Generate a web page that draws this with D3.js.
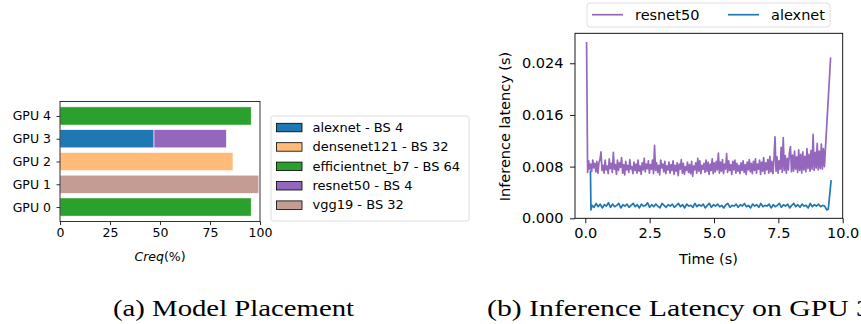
<!DOCTYPE html>
<html><head><meta charset="utf-8">
<script src="https://cdn.jsdelivr.net/npm/d3@7"></script>
<style>body{margin:0;background:#fff}svg{display:block}</style>
</head><body>
<script>
// ---- Data: (a) Model Placement ----
const gpus = ["GPU 0","GPU 1","GPU 2","GPU 3","GPU 4"];
const models = ["alexnet - BS 4","densenet121 - BS 32","efficientnet_b7 - BS 64","resnet50 - BS 4","vgg19 - BS 32"];
const modelColors = ["#1f77b4","#ffbb78","#2ca02c","#9467bd","#c49c94"];
const placementGpu   = ["GPU 0","GPU 1","GPU 2","GPU 3","GPU 3","GPU 4"];
const placementModel = [2,4,1,0,3,2];
const placementStart = [0,0,0,0,47,0];
const placementEnd   = [95.6,99.4,86.5,47,83.2,95.6];
const creqTicks = [0,25,50,75,100];

// ---- Data: (b) Inference latency on GPU 3 (values in ms) ----
const resnetTime = [
0.05,0.09,0.13,0.17,0.21,0.25,0.29,0.33,0.37,0.41,
0.45,0.49,0.53,0.57,0.61,0.65,0.69,0.73,0.77,0.81,
0.85,0.89,0.93,0.97,1.01,1.05,1.09,1.13,1.17,1.21,
1.25,1.29,1.33,1.37,1.41,1.45,1.49,1.53,1.57,1.61,
1.65,1.69,1.73,1.77,1.81,1.85,1.89,1.93,1.97,2.01,
2.05,2.09,2.13,2.17,2.21,2.25,2.29,2.33,2.37,2.41,
2.45,2.49,2.53,2.57,2.61,2.65,2.69,2.73,2.77,2.81,
2.85,2.89,2.93,2.97,3.01,3.05,3.09,3.13,3.17,3.21,
3.25,3.29,3.33,3.37,3.41,3.45,3.49,3.53,3.57,3.61,
3.65,3.69,3.73,3.77,3.81,3.85,3.89,3.93,3.97,4.01,
4.05,4.09,4.13,4.17,4.21,4.25,4.29,4.33,4.37,4.41,
4.45,4.49,4.53,4.57,4.61,4.65,4.69,4.73,4.77,4.81,
4.85,4.89,4.93,4.97,5.01,5.05,5.09,5.13,5.17,5.21,
5.25,5.29,5.33,5.37,5.41,5.45,5.49,5.53,5.57,5.61,
5.65,5.69,5.73,5.77,5.81,5.85,5.89,5.93,5.97,6.01,
6.05,6.09,6.13,6.17,6.21,6.25,6.29,6.33,6.37,6.41,
6.45,6.49,6.53,6.57,6.61,6.65,6.69,6.73,6.77,6.81,
6.85,6.89,6.93,6.97,7.01,7.05,7.09,7.13,7.17,7.21,
7.25,7.29,7.33,7.37,7.41,7.45,7.49,7.53,7.57,7.61,
7.65,7.69,7.73,7.77,7.81,7.85,7.89,7.93,7.97,8.01,
8.05,8.09,8.13,8.17,8.21,8.25,8.29,8.33,8.37,8.41,
8.45,8.49,8.53,8.57,8.61,8.65,8.69,8.73,8.77,8.81,
8.85,8.89,8.93,8.97,9.01,9.05,9.09,9.13,9.17,9.21,
9.25,9.29,9.53];
const resnetMs = [
27.3,7.1,8.9,7.6,8.4,7.3,9.0,7.8,8.5,7.2,
8.8,7.0,8.6,9.1,10.3,7.4,8.2,7.0,9.0,7.5,
8.1,6.9,9.2,7.7,8.5,7.1,10.2,7.6,8.3,6.8,
9.0,7.4,8.6,7.9,9.4,7.0,8.3,6.7,8.8,7.5,
8.2,7.1,9.1,7.6,8.0,6.9,8.7,7.4,8.4,7.0,
9.0,7.3,8.1,6.8,8.6,7.5,9.3,7.2,8.4,7.7,
8.9,7.0,8.3,7.6,9.0,6.9,11.3,7.4,8.6,7.1,
8.2,6.7,9.0,7.8,8.4,7.2,8.8,6.9,8.1,7.5,
8.7,7.0,8.3,7.4,8.9,6.8,8.2,7.3,8.6,6.6,
8.4,7.6,9.1,7.0,8.5,6.8,8.0,7.4,8.7,7.1,
8.3,6.9,8.8,6.5,8.1,7.5,8.6,7.0,9.3,7.3,
8.9,6.9,8.2,7.6,8.5,7.1,9.0,7.3,8.7,6.8,
8.4,7.4,9.2,6.9,8.6,7.2,8.8,7.5,10.1,7.0,
8.7,7.3,9.1,6.9,8.4,7.6,10.0,7.1,8.9,7.4,
8.3,6.8,8.8,7.5,9.0,7.0,8.5,7.3,8.2,6.9,
8.6,7.4,8.9,7.1,8.3,6.8,8.7,7.5,9.1,7.2,
8.5,6.9,8.8,7.4,9.2,7.0,8.4,7.6,9.0,6.8,
8.7,7.3,9.4,6.9,8.6,7.5,9.1,7.0,9.6,7.2,
8.8,6.9,9.2,12.6,7.3,9.5,7.0,8.9,7.6,11.0,
7.1,12.5,7.4,9.7,7.0,9.3,7.5,10.2,11.1,7.2,
9.8,7.3,10.4,7.6,9.5,7.1,10.6,7.4,9.9,7.0,
10.3,7.5,9.6,7.2,10.8,7.7,9.9,7.3,10.5,7.6,
13.0,7.4,10.2,7.8,11.6,7.5,10.4,7.7,11.5,7.6,
10.8,8.0,24.9];
const alexTime = [0.20,0.22,
0.26,0.34,0.42,0.50,0.58,0.66,0.74,0.82,0.90,0.98,
1.06,1.14,1.22,1.30,1.38,1.46,1.54,1.62,1.70,1.78,
1.86,1.94,2.02,2.10,2.18,2.26,2.34,2.42,2.50,2.58,
2.66,2.74,2.82,2.90,2.98,3.06,3.14,3.22,3.30,3.38,
3.46,3.54,3.62,3.70,3.78,3.86,3.94,4.02,4.10,4.18,
4.26,4.34,4.42,4.50,4.58,4.66,4.74,4.82,4.90,4.98,
5.06,5.14,5.22,5.30,5.38,5.46,5.54,5.62,5.70,5.78,
5.86,5.94,6.02,6.10,6.18,6.26,6.34,6.42,6.50,6.58,
6.66,6.74,6.82,6.90,6.98,7.06,7.14,7.22,7.30,7.38,
7.46,7.54,7.62,7.70,7.78,7.86,7.94,8.02,8.10,8.18,
8.26,8.34,8.42,8.50,8.58,8.66,8.74,8.82,8.90,8.98,
9.06,9.14,9.22,9.30,9.38,9.44,9.55];
const alexMs = [7.4,1.3,
2.0,1.7,2.3,1.8,2.2,1.6,2.1,1.9,2.4,1.7,
2.2,1.8,2.0,2.3,1.6,2.1,1.9,2.2,1.7,2.0,
2.3,1.8,2.1,1.6,2.2,1.9,2.0,2.4,1.7,2.1,
1.8,2.2,1.9,1.6,2.3,2.0,1.7,2.1,1.9,2.2,
1.7,2.0,2.3,1.8,2.1,1.6,2.2,1.9,2.0,1.7,
2.3,1.8,2.1,1.9,2.2,1.6,2.0,2.3,1.7,2.1,
1.9,2.2,1.8,2.0,1.6,2.1,2.3,1.7,2.0,1.9,
2.2,1.7,2.1,1.9,2.3,1.8,2.0,1.6,2.2,1.9,
2.1,1.7,2.3,1.8,2.0,1.9,2.2,1.6,2.1,1.8,
2.0,2.3,1.7,2.1,1.9,2.2,1.6,2.0,2.3,1.8,
2.1,1.7,2.2,1.9,2.0,1.6,2.3,1.8,2.1,1.9,
2.2,1.8,2.0,1.9,1.3,1.4,5.9];
const latTicks = [0,0.008,0.016,0.024];
const timeTicks = [0,2.5,5,7.5,10];

const svg = d3.select("body").append("svg").attr("width",861).attr("height",324);
const sans = "DejaVu Sans, sans-serif";

// ================= (a) =================
const fa = 12.5;
const ax = d3.scaleLinear().domain([0,100]).range([60,260]);
const ay = d3.scaleLinear().domain([-0.64,4.64]).range([221.6,101.4]);
const ga = svg.append("g");
ga.selectAll("rect.bar").data(placementGpu).join("rect")
  .attr("x",(g,i)=>ax(placementStart[i]))
  .attr("width",(g,i)=>ax(placementEnd[i])-ax(placementStart[i]))
  .attr("y",g=>ay(gpus.indexOf(g)+0.4))
  .attr("height",g=>ay(gpus.indexOf(g)-0.4)-ay(gpus.indexOf(g)+0.4))
  .attr("fill",(g,i)=>modelColors[placementModel[i]])
  .attr("stroke","#fff").attr("stroke-width",0.6);
ga.append("rect").attr("x",60).attr("y",101.4).attr("width",200).attr("height",120.2)
  .attr("fill","none").attr("stroke","#000").attr("stroke-width",0.8);
const axB = ga.append("g").attr("transform","translate(0,221.6)")
  .call(d3.axisBottom(ax).tickValues(creqTicks).tickSize(3.5).tickPadding(3.5).tickFormat(d3.format("d")));
const axL = ga.append("g").attr("transform","translate(60,0)")
  .call(d3.axisLeft(ay).tickValues([0,1,2,3,4]).tickSize(3.5).tickPadding(5.5).tickFormat(i=>gpus[i]));
[axB,axL].forEach(a=>{a.select(".domain").remove();a.selectAll("line").attr("stroke","#000").attr("stroke-width",0.8);
  a.selectAll("text").attr("font-family",sans).attr("font-size",fa).attr("fill","#000");});
ga.append("text").attr("x",160).attr("y",260.5).attr("text-anchor","middle")
  .attr("font-family",sans).attr("font-size",fa)
  .html('<tspan font-style="italic">Creq</tspan>(%)');
const lg = ga.append("g");
lg.append("rect").attr("x",271).attr("y",116).attr("width",198).attr("height",105).attr("rx",2.5)
  .attr("fill","#fff").attr("stroke","#d5d5d5").attr("stroke-width",0.8);
models.forEach((m,i)=>{
  const yy = 127.3 + i*19.4;
  lg.append("rect").attr("x",276.5).attr("y",yy-4).attr("width",25.5).attr("height",8.5)
    .attr("fill",modelColors[i]).attr("stroke","#000").attr("stroke-width",0.8);
  lg.append("text").attr("x",312.5).attr("y",yy+4.5).attr("font-family",sans).attr("font-size",13).text(m);
});

// ================= (b) =================
const fb = 14.5;
const bx = d3.scaleLinear().domain([-0.4,10.0]).range([575,842.7]);
const by = d3.scaleLinear().domain([0,0.02864]).range([218.3,33.3]);
const gb = svg.append("g");
gb.append("defs").append("clipPath").attr("id","clipb").append("rect")
  .attr("x",575).attr("y",33.3).attr("width",267.7).attr("height",185);
const line = d3.line().x(d=>bx(d[0])).y(d=>by(d[1]));
const resnetPts = resnetTime.map((t,i)=>[t,resnetMs[i]/1000]);
const alexPts = alexTime.map((t,i)=>[t,alexMs[i]/1000]);
gb.append("path").attr("d",line(resnetPts)).attr("fill","none").attr("stroke","#9467bd")
  .attr("stroke-width",1.7).attr("stroke-linejoin","round").attr("clip-path","url(#clipb)");
gb.append("path").attr("d",line(alexPts)).attr("fill","none").attr("stroke","#1f77b4")
  .attr("stroke-width",1.7).attr("stroke-linejoin","round").attr("clip-path","url(#clipb)");
gb.append("rect").attr("x",575).attr("y",33.3).attr("width",267.7).attr("height",185)
  .attr("fill","none").attr("stroke","#000").attr("stroke-width",0.9);
const bB = gb.append("g").attr("transform","translate(0,218.3)")
  .call(d3.axisBottom(bx).tickValues(timeTicks).tickSize(5).tickPadding(4.5).tickFormat(d3.format(".1f")));
const bL = gb.append("g").attr("transform","translate(575,0)")
  .call(d3.axisLeft(by).tickValues(latTicks).tickSize(5).tickPadding(6.5).tickFormat(d3.format(".3f")));
[bB,bL].forEach(a=>{a.select(".domain").remove();a.selectAll("line").attr("stroke","#000").attr("stroke-width",0.9);
  a.selectAll("text").attr("font-family",sans).attr("font-size",fb).attr("fill","#000");});
gb.append("text").attr("x",708.5).attr("y",263.5).attr("text-anchor","middle")
  .attr("font-family",sans).attr("font-size",fb).text("Time (s)");
gb.append("text").attr("transform","translate(510,126.5) rotate(-90)").attr("text-anchor","middle")
  .attr("font-family",sans).attr("font-size",fb).text("Inference latency (s)");
const lb = gb.append("g");
lb.append("rect").attr("x",587).attr("y",3).attr("width",243).attr("height",24).attr("rx",3)
  .attr("fill","#fff").attr("stroke","#d5d5d5").attr("stroke-width",0.8);
[["resnet50","#9467bd",592],["alexnet","#1f77b4",728]].forEach(([name,c,x0])=>{
  lb.append("line").attr("x1",x0).attr("x2",x0+31).attr("y1",14.7).attr("y2",14.7).attr("stroke",c).attr("stroke-width",1.7);
  lb.append("text").attr("x",x0+43).attr("y",19.8).attr("font-family",sans).attr("font-size",fb).text(name);
});

// ================= captions =================
const serif = "Liberation Serif, Times New Roman, serif";
svg.append("text").attr("x",113).attr("y",316).attr("font-family",serif).attr("font-size",23)
  .attr("textLength",241).attr("lengthAdjust","spacingAndGlyphs").text("(a) Model Placement");
svg.append("text").attr("x",487).attr("y",316).attr("font-family",serif).attr("font-size",23)
  .attr("textLength",384).attr("lengthAdjust","spacingAndGlyphs").text("(b) Inference Latency on GPU 3");
</script>
</body></html>
